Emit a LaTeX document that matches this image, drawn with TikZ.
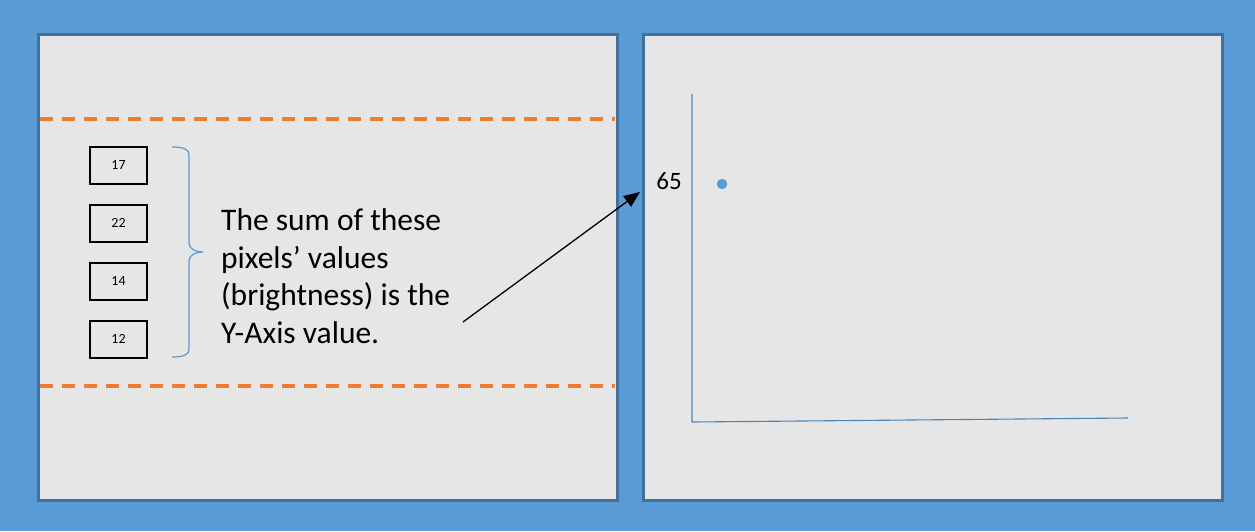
\documentclass[tikz,border=0pt]{standalone}
\usepackage{fontspec}
\setmainfont{Carlito}
\usepackage{tikz}
\usetikzlibrary{positioning,arrows.meta}
\usepackage{xcolor}

\definecolor{skyblue}{HTML}{5B9BD5}
\definecolor{frameblue}{HTML}{41719C}
\definecolor{paneground}{HTML}{E7E6E6}
\definecolor{cutorange}{HTML}{ED7D31}

\tikzset{
  pane/.style={fill=paneground,draw=frameblue,line width=3pt},
  cutline/.style={cutorange,line width=3.2pt,dash pattern=on 13pt off 9pt},
  pixbox/.style={draw=black,line width=2pt,minimum width=57pt,minimum height=37pt,inner sep=0pt,font=\fontsize{14}{16}\selectfont},
  axisline/.style={skyblue!85!black,line width=1.1pt}
}

\begin{document}
\begin{tikzpicture}[x=1pt,y=-1pt]
\useasboundingbox (0,0) rectangle (1255,531);
\fill [skyblue] (0,0) rectangle (1255,531);

\filldraw [pane] (38,34) rectangle (617,500);
\filldraw [pane] (643,34) rectangle (1222,500);

\draw [cutline] (40,119)--(615,119);
\draw [cutline] (40,386)--(615,386);

\node[pixbox] (p1) at (118.5,165) {17};
\node[pixbox] (p2) at (118.5,223) {22};
\node[pixbox] (p3) at (118.5,281) {14};
\node[pixbox] (p4) at (118.5,339) {12};

% brace round the four pixels
\draw [skyblue,line width=1.2pt]
  (172,147) to[out=0,in=90] (189,155)--(189,243) to[out=-90,in=180] (203,252)
  to[out=180,in=90] (189,261)--(189,349) to[out=-90,in=0] (172,357);

\node[anchor=north west,align=left,inner sep=0pt,font=\fontsize{31.5}{37.5}\selectfont] (sumtext) at (221,208.5)
  {The sum of these\\pixels’ values\\(brightness) is the\\Y-Axis value.};

\node[font=\fontsize{25}{28}\selectfont,inner sep=0pt] (ylabel) at (669,181) {65};
\filldraw [skyblue] (722,184) circle (5pt);

\coordinate (origin) at (692,422);
\coordinate (ytop) at (692,94);
\coordinate (xend) at (1128,418);
\draw [axisline] (ytop)--(origin)--(xend);

\coordinate (arrowfoot) at (463,322);
\coordinate (arrowtip) at (640,192);
\draw [black,line width=1.3pt,-{Triangle[length=16pt,width=13pt]}] (arrowfoot)--(arrowtip);
\end{tikzpicture}
\end{document}
